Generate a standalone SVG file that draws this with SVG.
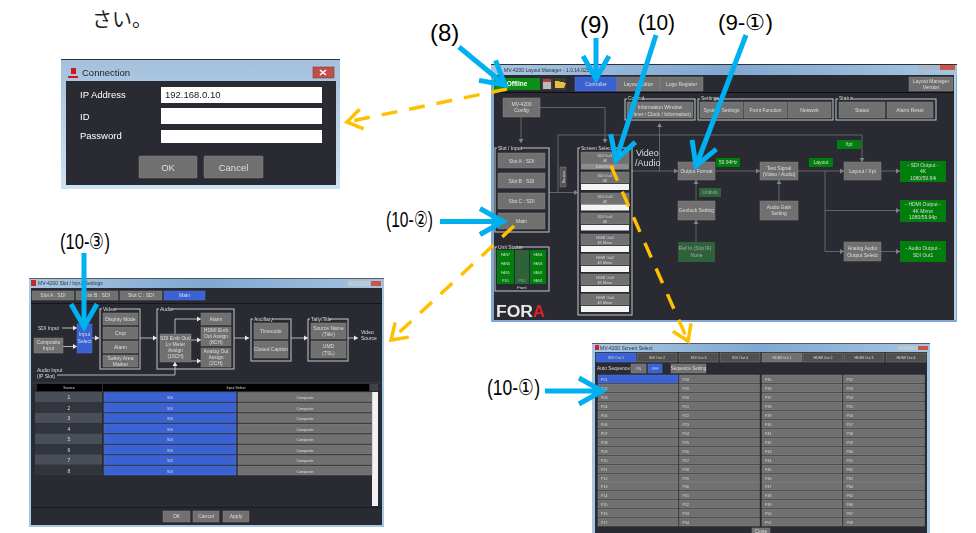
<svg xmlns="http://www.w3.org/2000/svg" width="976" height="533" viewBox="0 0 976 533">
<style>
text{font-family:"Liberation Sans",Arial,sans-serif;fill:#dedede;font-size:5px}
.m{text-anchor:middle}
.b{fill:#707070;stroke:#808080;stroke-width:.5}
.bl{fill:#3b62d2;stroke:#4c72de;stroke-width:.5}
.gr{fill:#007f0a}
.dg{fill:#2f6238}
.wh{fill:#f4f4f4}
.grp{fill:none;stroke:#c4c8cc;stroke-width:1}
.bg{fill:#292c32}
.fr{fill:#9dc0de}
.l{fill:none;stroke:#70747a;stroke-width:.8;marker-end:url(#sm)}
.wl{fill:none;stroke:#d8d8d8;stroke-width:.8;marker-end:url(#wm)}
.call{fill:#000;font-size:24px}
.cy{fill:none;stroke:#00b0f0;stroke-width:5;marker-end:url(#cyan)}
.or{fill:none;stroke:#ffc000;stroke-width:3.5;stroke-dasharray:16 12;marker-end:url(#org)}
.p{font-size:3.6px}
.d{font-size:9.500px}
</style>
<defs>
<marker id="sm" markerUnits="userSpaceOnUse" markerWidth="6" markerHeight="6" refX="4" refY="3" orient="auto"><path d="M0 .5L4 3L0 5.500Z" fill="#80848a"/></marker>
<marker id="wm" markerUnits="userSpaceOnUse" markerWidth="6" markerHeight="6" refX="4" refY="3" orient="auto"><path d="M0 .5L4 3L0 5.500Z" fill="#e8e8e8"/></marker>
<marker id="cyan" markerUnits="userSpaceOnUse" markerWidth="34" markerHeight="40" viewBox="-28 -20 34 40" refX="0" refY="0" orient="auto"><path d="M-23 -13L0 0L-23 13" fill="none" stroke="#00b0f0" stroke-width="5"/></marker>
<marker id="org" markerUnits="userSpaceOnUse" markerWidth="26" markerHeight="30" viewBox="-20 -15 26 30" refX="0" refY="0" orient="auto"><path d="M-15 -10L0 0L-15 10" fill="none" stroke="#ffc000" stroke-width="3.5"/></marker>
<linearGradient id="tb" x1="0" x2="1" y1="0" y2="0"><stop offset="0" stop-color="#a9c6e2"/><stop offset=".5" stop-color="#7fa8d2"/><stop offset="1" stop-color="#a6c4e0"/></linearGradient>
<linearGradient id="tv" x1="0" x2="0" y1="0" y2="1"><stop offset="0" stop-color="#a4c0dc"/><stop offset="1" stop-color="#cfe2f2"/></linearGradient>
<filter id="bl" filterUnits="userSpaceOnUse" x="0" y="0" width="976" height="533"><feGaussianBlur stdDeviation=".4"/></filter>
<filter id="bl2" filterUnits="userSpaceOnUse" x="0" y="0" width="976" height="533"><feGaussianBlur stdDeviation=".25"/></filter>
</defs>
<rect width="976" height="533" fill="#fff"/>
<text id="caption" x="92" y="27" style="font-family:'Noto Sans CJK JP',sans-serif;font-size:20px;fill:#222">さい。</text>

<g id="connection-dialog" filter="url(#bl2)">
<rect x="61" y="59" width="279" height="130" style="fill:url(#tv)"/>
<rect x="61" y="59" width="279" height="1" fill="#333"/>
<rect class="bg" x="66" y="81" width="270" height="104"/>
<path d="M68 76h10v2h-10zM71 68h5v6h-5z" fill="#d4141c"/>
<text x="82" y="76" class="d" style="fill:#222">Connection</text>
<rect x="313" y="67" width="21" height="11" fill="#c0504a" stroke="#7d3a36" stroke-width=".6"/>
<path d="M320 70l6 5M326 70l-6 5" stroke="#fff" stroke-width="1.6"/>
<g id="ip"><text x="80" y="98" class="d" style="fill:#fff">IP Address</text><rect x="161" y="87" width="161" height="16" fill="#fff"/><text x="165" y="98" class="d" style="fill:#222">192.168.0.10</text></g>
<g id="id"><text x="80" y="119.500" class="d" style="fill:#fff">ID</text><rect x="161" y="108" width="161" height="16" fill="#fff"/></g>
<g id="password"><text x="80" y="139" class="d" style="fill:#fff">Password</text><rect x="161" y="130" width="161" height="13" fill="#fff"/></g>
<g id="ok"><rect class="b" x="139" y="156" width="58" height="22" rx="1"/><text x="168" y="170.500" class="d m">OK</text></g>
<g id="cancel"><rect class="b" x="204" y="156" width="59" height="22" rx="1"/><text x="233.500" y="170.500" class="d m">Cancel</text></g>
</g>

<g id="main-window" filter="url(#bl)">
<rect x="491" y="64" width="466" height="258" fill="#7fa9d2"/>
<rect x="491" y="64" width="466" height="11" style="fill:url(#tb)"/>
<rect x="491" y="64" width="466" height="1" fill="#333"/>
<rect x="918" y="65" width="37" height="5" fill="#a8b8c8"/><rect x="940" y="65" width="15" height="5" fill="#c8564a"/>
<text x="504" y="71.500" style="fill:#333">MV-4200 Layout Manager - 1.0.14.0254</text>
<rect class="bg" x="494" y="75" width="460" height="245"/>
<rect x="954" y="75" width="2" height="245" fill="#b8d0e6"/>
<rect x="494" y="92" width="460" height=".8" fill="#0c0c0c"/>
<g id="conn-main">
<path class="l" d="M521 117V143"/>
<path class="l" d="M540 107.500H605V143"/>
<path class="l" d="M558 193V135H862V162"/>
<path class="l" d="M549 192.500H578"/>
<path class="l" d="M632 171H678"/>
<path class="l" d="M659.500 171V123"/>
<path class="l" d="M715 171H760"/>
<path class="l" d="M798 171H844"/>
<path class="l" d="M881 171H900"/>
<path class="l" d="M779 201V180"/>
<path class="l" d="M696 201V180"/>
<path class="l" d="M696 242V220"/>
<path class="l" d="M825 171V251.500H844"/>
<path class="l" d="M825 210.500H900"/>
<path class="l" d="M881 251.500H900"/>
</g>
<g id="offline"><rect x="494" y="78" width="46" height="12" fill="#0d8f12"/><text x="517" y="86" class="m" style="font-size:6.500px;font-weight:bold;fill:#fff">Offline</text></g>
<g id="icons"><rect x="541" y="78" width="12" height="12" fill="#3a3a3a"/><rect x="543" y="79" width="8" height="10" fill="#bbb"/><rect x="543" y="79" width="8" height="3" fill="#b04040"/><rect x="554" y="78" width="12" height="12" fill="#3a3a3a"/><path d="M555 88V81h4l1 1h4v1h2l-2 5Z" fill="#e8c040"/></g>
<g id="controller"><rect class="bl" x="575" y="77" width="42" height="14"/><text x="596" y="85.500" class="m">Controller</text></g>
<g id="layout-editor"><rect class="b" x="617" y="77" width="43" height="14"/><text x="638.500" y="85.500" class="m">Layout Editor</text></g>
<g id="logo-register"><rect class="b" x="660" y="77" width="43" height="14"/><text x="681.500" y="85.500" class="m">Logo Register</text></g>
<g id="lm-version"><rect class="b" x="909" y="77" width="44" height="14"/><text x="931" y="83" class="m">Layout Manager</text><text x="931" y="89" class="m">Version</text></g>
<g id="config"><rect class="b" x="503" y="98" width="37" height="19"/><text x="521.500" y="105.500" class="m">MV-4200</text><text x="521.500" y="112" class="m">Config</text></g>

<g id="control"><rect class="grp" x="625" y="99" width="70" height="21"/><rect class="bg" x="627" y="97" width="15" height="4"/><text x="628" y="100">Control</text><rect class="b" x="627" y="102" width="66" height="16"/><text x="660" y="109" class="m">Information Window</text><text x="660" y="115.500" class="m">(Timer / Clock / Information)</text></g>
<g id="settings"><rect class="grp" x="698" y="99" width="135" height="21"/><rect class="bg" x="700" y="97" width="15" height="4"/><text x="701" y="100">Settings</text>
<rect class="b" x="700" y="102" width="43" height="16"/><text x="721.500" y="111.500" class="m">System Settings</text>
<rect class="b" x="744" y="102" width="43" height="16"/><text x="765.500" y="111.500" class="m">Front Function</text>
<rect class="b" x="788" y="102" width="43" height="16"/><text x="809.500" y="111.500" class="m">Network</text></g>
<g id="status"><rect class="grp" x="836" y="99" width="100" height="21"/><rect class="bg" x="838" y="97" width="15" height="4"/><text x="839" y="100">Status</text>
<rect class="b" x="839" y="102" width="46" height="16"/><text x="862" y="111.500" class="m">Status</text>
<rect class="b" x="887" y="102" width="46" height="16"/><text x="910" y="111.500" class="m">Alarm Reset</text></g>

<g id="slot-input"><rect class="grp" x="495" y="148" width="54" height="84"/><rect class="bg" x="497" y="146" width="24" height="4"/><text x="498" y="150">Slot / Input</text>
<rect class="b" x="498" y="153" width="47" height="15"/><text x="521.500" y="162.500" class="m">Slot A : SDI</text>
<rect class="b" x="498" y="173" width="47" height="15"/><text x="521.500" y="182.500" class="m">Slot B : SDI</text>
<rect class="b" x="498" y="193" width="47" height="16"/><text x="521.500" y="203" class="m">Slot C : SDI</text>
<rect class="b" x="498" y="213" width="47" height="16"/><text x="521.500" y="223" class="m">Main</text></g>
<g id="source"><rect class="b" x="560" y="167" width="6" height="20" style="fill:#555"/><text transform="translate(564.500 177) rotate(-90)" class="m" style="font-size:4px">Source</text></g>

<g id="screen-select"><rect class="grp" x="578" y="148" width="54" height="167"/><rect class="bg" x="580" y="146" width="32" height="4"/><text x="581" y="150">Screen Select</text>
<g id="ss1"><rect class="b" x="581" y="152" width="48" height="12"/><text x="605" y="157" class="m p">SDI Out1</text><text x="605" y="162" class="m p">4K</text><rect x="581" y="164" width="48" height="5.500" fill="#8c8c8c"/><text x="605" y="168" class="m p">1080/59.94i</text></g>
<g id="ss2"><rect class="b" x="581" y="172" width="48" height="11"/><text x="605" y="177" class="m p">SDI Out2</text><text x="605" y="181.500" class="m p">4K</text><rect class="wh" x="581" y="184" width="48" height="6"/></g>
<g id="ss3"><rect class="b" x="581" y="193" width="48" height="11"/><text x="605" y="198" class="m p">SDI Out3</text><text x="605" y="202.500" class="m p">4K</text><rect class="wh" x="581" y="204.500" width="48" height="6"/></g>
<g id="ss4"><rect class="b" x="581" y="213" width="48" height="11"/><text x="605" y="218" class="m p">SDI Out4</text><text x="605" y="222.500" class="m p">4K</text><rect class="wh" x="581" y="225" width="48" height="5.500"/></g>
<g id="ss5"><rect class="b" x="581" y="234" width="48" height="11"/><text x="605" y="239" class="m p">HDMI Out1</text><text x="605" y="243.500" class="m p">4K Mirror</text><rect class="wh" x="581" y="246" width="48" height="6"/></g>
<g id="ss6"><rect class="b" x="581" y="254" width="48" height="11"/><text x="605" y="259" class="m p">HDMI Out2</text><text x="605" y="263.500" class="m p">4K Mirror</text><rect class="wh" x="581" y="266" width="48" height="6"/></g>
<g id="ss7"><rect class="b" x="581" y="274" width="48" height="11"/><text x="605" y="279" class="m p">HDMI Out3</text><text x="605" y="283.500" class="m p">4K Mirror</text><rect class="wh" x="581" y="286" width="48" height="6"/></g>
<g id="ss8"><rect class="b" x="581" y="294" width="48" height="11"/><text x="605" y="299" class="m p">HDMI Out4</text><text x="605" y="303.500" class="m p">4K Mirror</text><rect class="wh" x="581" y="306" width="48" height="6"/></g>
</g>
<text id="video-audio" x="636" y="156" style="font-size:9px">Video</text><text x="635" y="166" style="font-size:9px">/Audio</text>

<g id="output-format"><rect class="b" x="678" y="162" width="37" height="18"/><text x="696.500" y="172.500" class="m">Output Format</text></g>
<g id="hz"><rect class="gr" x="716" y="158" width="24" height="9"/><text x="728" y="164" class="m">59.94Hz</text></g>
<g id="unlock"><rect class="dg" x="699" y="188" width="22" height="9"/><text x="710" y="194" class="m" style="fill:#9ab">Unlock</text></g>
<g id="genlock"><rect class="b" x="678" y="201" width="37" height="19"/><text x="696.500" y="212" class="m">Genlock Setting</text></g>
<g id="ref-in"><rect class="dg" x="678" y="242" width="37" height="20"/><text x="696.500" y="250" class="m" style="fill:#aab">Ref In (Slot IF) :</text><text x="696.500" y="257" class="m" style="fill:#aab">None</text></g>
<g id="test-signal"><rect class="b" x="760" y="162" width="38" height="18"/><text x="779" y="169.500" class="m">Test Signal</text><text x="779" y="176" class="m">(Video / Audio)</text></g>
<g id="audio-gain"><rect class="b" x="760" y="201" width="38" height="19"/><text x="779" y="208.500" class="m">Audio Gain</text><text x="779" y="215" class="m">Setting</text></g>
<g id="layout"><rect class="gr" x="809" y="158" width="24" height="9"/><text x="821" y="164" class="m">Layout</text></g>
<g id="xpt"><rect class="gr" x="837" y="140" width="24" height="9"/><text x="849" y="146" class="m">Xpt</text></g>
<g id="layout-xpt"><rect class="b" x="844" y="162" width="37" height="18"/><text x="862.500" y="172.500" class="m">Layout / Xpt</text></g>
<g id="analog"><rect class="b" x="844" y="242" width="37" height="19"/><text x="862.500" y="250" class="m">Analog Audio</text><text x="862.500" y="256.500" class="m">Output Select</text></g>
<g id="sdi-output"><rect class="gr" x="900" y="161" width="46" height="21"/><text x="923" y="166.500" class="m">- SDI Output -</text><text x="923" y="173" class="m">4K</text><text x="923" y="179.500" class="m">1080/59.94i</text></g>
<g id="hdmi-output"><rect class="gr" x="900" y="200" width="46" height="22"/><text x="923" y="206" class="m">- HDMI Output -</text><text x="923" y="212.500" class="m">4K Mirror</text><text x="923" y="219" class="m">1080/59.94p</text></g>
<g id="audio-output"><rect class="gr" x="900" y="241" width="46" height="21"/><text x="923" y="250" class="m">- Audio Output -</text><text x="923" y="257" class="m">SDI Out1</text></g>

<g id="unit-status"><rect class="grp" x="495" y="247" width="54" height="44"/><rect class="bg" x="497" y="245" width="20" height="4"/><text x="498" y="249">Unit Status</text>
<rect class="gr" x="497" y="250" width="17" height="34"/><rect class="dg" x="515" y="250" width="14" height="34"/><rect class="gr" x="530" y="250" width="16" height="34"/>
<text x="505.500" y="256" class="m p">FAN7</text><text x="505.500" y="265" class="m p">FAN6</text><text x="505.500" y="273.500" class="m p">FAN5</text><text x="505.500" y="282" class="m p">PS1</text>
<text x="522" y="282" class="m p" style="fill:#9ab">PS2</text>
<text x="538" y="256" class="m p">FAN4</text><text x="538" y="265" class="m p">FAN3</text><text x="538" y="273.500" class="m p">FAN2</text><text x="538" y="282" class="m p">FAN1</text>
<text x="522" y="289" class="m" style="font-size:4px">Front</text></g>
<g id="logo"><text x="496" y="317" textLength="37" lengthAdjust="spacingAndGlyphs" style="font-size:16px;font-weight:bold;fill:#e8e8e8">FOR</text><text x="533" y="317" textLength="12" lengthAdjust="spacingAndGlyphs" style="font-size:16px;font-weight:bold;fill:#e02028">A</text></g>
</g>

<g id="input-window" filter="url(#bl)">
<rect x="29" y="278" width="355" height="249" fill="#a8c8e2"/>
<rect x="29" y="278" width="355" height="10" style="fill:url(#tb)"/>
<rect x="29" y="278" width="355" height=".8" fill="#444"/>
<rect x="31" y="280" width="5" height="6" fill="#c8262a"/>
<text x="38" y="285" style="fill:#333">MV-4200 Slot / Input Settings</text>
<rect x="348" y="281" width="22" height="5" fill="#bcc8d4"/><rect x="371" y="281" width="10" height="5" fill="#c8564a"/>
<rect class="bg" x="31" y="288" width="351" height="237"/>
<rect x="31" y="303" width="351" height=".8" fill="#111"/>
<rect x="31" y="382.500" width="351" height=".8" fill="#3e4248"/>
<rect x="31" y="507" width="351" height=".8" fill="#1b1d21"/>
<g id="tab-a"><rect class="b" x="32" y="291" width="42" height="9"/><text x="53" y="297" class="m">Slot A : SDI</text></g>
<g id="tab-b"><rect class="b" x="76" y="291" width="42" height="9"/><text x="97" y="297" class="m">Slot B : SDI</text></g>
<g id="tab-c"><rect class="b" x="120" y="291" width="42" height="9"/><text x="141" y="297" class="m">Slot C : SDI</text></g>
<g id="tab-main"><rect class="bl" x="164" y="291" width="41" height="9"/><text x="184.500" y="297" class="m">Main</text></g>
<g id="conn-input">
<path class="wl" d="M62 328H77"/><path class="wl" d="M63 346.500H77"/><path class="wl" d="M92 338H99"/><path class="wl" d="M140 338H157"/>
<path class="wl" d="M175 334V319H201"/><path class="wl" d="M191 340H201"/><path class="wl" d="M191 361H201"/>
<path class="wl" d="M234 338H249"/><path class="wl" d="M291 338H308"/><path class="wl" d="M348 338H358"/>
<path class="wl" d="M57 375H175V362"/>
</g>
<text id="sdi-input" x="38" y="330">SDI Input</text>
<g id="composite"><rect class="b" x="34" y="338" width="29" height="15"/><text x="48.500" y="344" class="m">Composite</text><text x="48.500" y="350" class="m">Input</text></g>
<g id="input-select"><rect class="bl" x="77" y="324" width="15" height="29"/><text x="84.500" y="336" class="m">Input</text><text x="84.500" y="343" class="m">Select</text></g>
<g id="video"><rect class="grp" x="100" y="309" width="40" height="60"/><rect class="bg" x="102" y="307" width="12" height="4"/><text x="103" y="311">Video</text>
<rect class="b" x="103" y="313" width="35" height="12"/><text x="120.500" y="320.500" class="m">Display Mode</text>
<rect class="b" x="103" y="327" width="35" height="12"/><text x="120.500" y="334.500" class="m">Crop</text>
<rect class="b" x="103" y="341" width="35" height="12"/><text x="120.500" y="348.500" class="m">Alarm</text>
<rect class="b" x="103" y="355" width="35" height="12"/><text x="120.500" y="360" class="m">Safety Area</text><text x="120.500" y="365.500" class="m">Marker</text></g>
<g id="audio"><rect class="grp" x="157" y="309" width="77" height="60"/><rect class="bg" x="159" y="307" width="12" height="4"/><text x="160" y="311">Audio</text>
<rect class="b" x="160" y="334" width="31" height="28"/><text x="175.500" y="340" class="m">SDI Emb Out/</text><text x="175.500" y="346" class="m">Lv Meter</text><text x="175.500" y="352" class="m">Assign</text><text x="175.500" y="358" class="m">(16CH)</text>
<rect class="b" x="201" y="313" width="30" height="12"/><text x="216" y="320.500" class="m">Alarm</text>
<rect class="b" x="201" y="327" width="30" height="19"/><text x="216" y="331.500" class="m">HDMI Emb</text><text x="216" y="337.500" class="m">Out Assign</text><text x="216" y="343.500" class="m">(8CH)</text>
<rect class="b" x="201" y="348" width="30" height="19"/><text x="216" y="353" class="m">Analog Out</text><text x="216" y="359" class="m">Assign</text><text x="216" y="365" class="m">(2CH)</text></g>
<g id="ancillary"><rect class="grp" x="251" y="319" width="40" height="42"/><rect class="bg" x="253" y="317" width="19" height="4"/><text x="254" y="321">Ancillary</text>
<rect class="b" x="254" y="323" width="34" height="16"/><text x="271" y="332.500" class="m">Timecode</text>
<rect class="b" x="254" y="341" width="34" height="17"/><text x="271" y="351" class="m">Closed Caption</text></g>
<g id="tally"><rect class="grp" x="308" y="319" width="40" height="42"/><rect class="bg" x="310" y="317" width="20" height="4"/><text x="311" y="321">Tally/Title</text>
<rect class="b" x="311" y="323" width="35" height="16"/><text x="328.500" y="330" class="m">Source Name</text><text x="328.500" y="336" class="m">(Title)</text>
<rect class="b" x="311" y="341" width="35" height="17"/><text x="328.500" y="348" class="m">UMD</text><text x="328.500" y="354.500" class="m">(TSL)</text></g>
<text id="video-source" x="361" y="334">Video</text><text x="361" y="340">Source</text>
<text id="audio-input" x="37" y="372">Audio Input</text><text x="37" y="378">(IP Slot)</text>

<g id="table">
<rect x="37" y="384" width="65" height="7" fill="#000"/><text x="69" y="389" class="m p">Source</text>
<rect x="103" y="384" width="266" height="7" fill="#000"/><text x="236" y="389" class="m p">Input Select</text>
<rect x="370" y="384" width="8" height="7" fill="#3e4248"/>
<rect x="372" y="392" width="6" height="114" fill="#f2f2f2"/>
<g id="r1"><rect x="35" y="392" width="67" height="10.400" fill="#4a5058"/><text x="69" y="399" class="m">1</text><rect class="bl" x="104" y="392.500" width="132" height="9"/><text x="170" y="399" class="m p">SDI</text><rect class="b" x="238" y="392.500" width="134" height="9"/><text x="305" y="399" class="m p">Composite</text></g>
<g id="r2"><rect x="35" y="402.400" width="67" height="10.400" fill="#30343a"/><text x="69" y="409.500" class="m">2</text><rect class="bl" x="104" y="403" width="132" height="9"/><text x="170" y="409.500" class="m p">SDI</text><rect class="b" x="238" y="403" width="134" height="9"/><text x="305" y="409.500" class="m p">Composite</text></g>
<g id="r3"><rect x="35" y="412.800" width="67" height="10.400" fill="#4a5058"/><text x="69" y="420" class="m">3</text><rect class="bl" x="104" y="413.500" width="132" height="9"/><text x="170" y="420" class="m p">SDI</text><rect class="b" x="238" y="413.500" width="134" height="9"/><text x="305" y="420" class="m p">Composite</text></g>
<g id="r4"><rect x="35" y="423.200" width="67" height="10.400" fill="#30343a"/><text x="69" y="430.500" class="m">4</text><rect class="bl" x="104" y="424" width="132" height="9"/><text x="170" y="430.500" class="m p">SDI</text><rect class="b" x="238" y="424" width="134" height="9"/><text x="305" y="430.500" class="m p">Composite</text></g>
<g id="r5"><rect x="35" y="433.600" width="67" height="10.400" fill="#4a5058"/><text x="69" y="441" class="m">5</text><rect class="bl" x="104" y="434.500" width="132" height="9"/><text x="170" y="441" class="m p">SDI</text><rect class="b" x="238" y="434.500" width="134" height="9"/><text x="305" y="441" class="m p">Composite</text></g>
<g id="r6"><rect x="35" y="444" width="67" height="10.400" fill="#30343a"/><text x="69" y="451.500" class="m">6</text><rect class="bl" x="104" y="445" width="132" height="9"/><text x="170" y="451.500" class="m p">SDI</text><rect class="b" x="238" y="445" width="134" height="9"/><text x="305" y="451.500" class="m p">Composite</text></g>
<g id="r7"><rect x="35" y="454.400" width="67" height="10.400" fill="#4a5058"/><text x="69" y="462" class="m">7</text><rect class="bl" x="104" y="455.500" width="132" height="9"/><text x="170" y="462" class="m p">SDI</text><rect class="b" x="238" y="455.500" width="134" height="9"/><text x="305" y="462" class="m p">Composite</text></g>
<g id="r8"><rect x="35" y="464.800" width="67" height="10.400" fill="#30343a"/><text x="69" y="472.500" class="m">8</text><rect class="bl" x="104" y="466" width="132" height="9"/><text x="170" y="472.500" class="m p">SDI</text><rect class="b" x="238" y="466" width="134" height="9"/><text x="305" y="472.500" class="m p">Composite</text></g>
</g>
<g id="i-ok"><rect class="b" x="163" y="511" width="27" height="11"/><text x="176.500" y="518" class="m">OK</text></g>
<g id="i-cancel"><rect class="b" x="193" y="511" width="26" height="11"/><text x="206" y="518" class="m">Cancel</text></g>
<g id="i-apply"><rect class="b" x="223" y="511" width="26" height="11"/><text x="236" y="518" class="m">Apply</text></g>
</g>

<g id="screen-window" filter="url(#bl)">
<rect x="592" y="343" width="338" height="190" fill="#a8c8e2"/>
<rect x="592" y="343" width="338" height="9" style="fill:url(#tb)"/>
<rect x="592" y="343" width="338" height=".8" fill="#444"/>
<rect x="595" y="345" width="4" height="5" fill="#c8262a"/>
<text x="600" y="349.500" style="fill:#333">MV-4200 Screen Select</text>
<rect x="898" y="346" width="20" height="4" fill="#bcc8d4"/><rect x="918" y="346" width="10" height="4" fill="#c8564a"/>
<rect class="bg" x="595" y="352" width="332" height="181"/>
<g id="tabs">
<rect class="bl" x="596" y="353" width="40" height="9"/><text x="616" y="359" class="m p">SDI Out 1</text>
<rect class="b" x="637" y="353" width="40" height="9" style="fill:#505050"/><text x="657" y="359" class="m p">SDI Out 2</text>
<rect class="b" x="679" y="353" width="39" height="9" style="fill:#505050"/><text x="698.500" y="359" class="m p">SDI Out 3</text>
<rect class="b" x="720" y="353" width="40" height="9" style="fill:#505050"/><text x="740" y="359" class="m p">SDI Out 4</text>
<rect class="b" x="762" y="353" width="40" height="9"/><text x="782" y="359" class="m p">HDMI Out 1</text>
<rect class="b" x="803" y="353" width="40" height="9" style="fill:#505050"/><text x="823" y="359" class="m p">HDMI Out 2</text>
<rect class="b" x="844" y="353" width="40" height="9" style="fill:#505050"/><text x="864" y="359" class="m p">HDMI Out 3</text>
<rect class="b" x="886" y="353" width="40" height="9" style="fill:#505050"/><text x="906" y="359" class="m p">HDMI Out 4</text>
</g>
<text id="auto-seq" x="597" y="370" style="font-size:4.800px">Auto Sequence:</text>
<g id="on"><rect class="b" x="631" y="364" width="15" height="9"/><text x="638.500" y="370" class="m p">ON</text></g>
<g id="off"><rect class="bl" x="648" y="364" width="14" height="9"/><text x="655" y="370" class="m p">OFF</text></g>
<g id="seq"><rect class="b" x="671" y="364" width="35" height="9"/><text x="688.500" y="370" class="m" style="font-size:4.500px">Sequence Setting</text></g>
<g id="col1" transform="translate(598 0)">
<rect class="bl" y="375" width="80" height="8"/><text class="p" x="3" y="380.500">P01</text>
<rect class="b" y="384" width="80" height="8"/><text class="p" x="3" y="389.500">P02</text>
<rect class="b" y="393" width="80" height="8"/><text class="p" x="3" y="398.500">P03</text>
<rect class="b" y="402" width="80" height="8"/><text class="p" x="3" y="407.500">P04</text>
<rect class="b" y="411" width="80" height="8"/><text class="p" x="3" y="416.500">P05</text>
<rect class="b" y="420" width="80" height="8"/><text class="p" x="3" y="425.500">P06</text>
<rect class="b" y="429" width="80" height="8"/><text class="p" x="3" y="434.500">P07</text>
<rect class="b" y="438" width="80" height="8"/><text class="p" x="3" y="443.500">P08</text>
<rect class="b" y="447" width="80" height="8"/><text class="p" x="3" y="452.500">P09</text>
<rect class="b" y="456" width="80" height="8"/><text class="p" x="3" y="461.500">P10</text>
<rect class="b" y="465" width="80" height="8"/><text class="p" x="3" y="470.500">P11</text>
<rect class="b" y="474" width="80" height="8"/><text class="p" x="3" y="479.500">P12</text>
<rect class="b" y="482" width="80" height="8"/><text class="p" x="3" y="487.500">P13</text>
<rect class="b" y="491" width="80" height="8"/><text class="p" x="3" y="496.500">P14</text>
<rect class="b" y="500" width="80" height="8"/><text class="p" x="3" y="505.500">P15</text>
<rect class="b" y="509" width="80" height="8"/><text class="p" x="3" y="514.500">P16</text>
<rect class="b" y="518" width="80" height="8"/><text class="p" x="3" y="523.500">P17</text>
</g>
<g id="col2" transform="translate(679.500 0)">
<rect class="b" y="375" width="80" height="8"/><text class="p" x="3" y="380.500">P18</text>
<rect class="b" y="384" width="80" height="8"/><text class="p" x="3" y="389.500">P19</text>
<rect class="b" y="393" width="80" height="8"/><text class="p" x="3" y="398.500">P20</text>
<rect class="b" y="402" width="80" height="8"/><text class="p" x="3" y="407.500">P21</text>
<rect class="b" y="411" width="80" height="8"/><text class="p" x="3" y="416.500">P22</text>
<rect class="b" y="420" width="80" height="8"/><text class="p" x="3" y="425.500">P23</text>
<rect class="b" y="429" width="80" height="8"/><text class="p" x="3" y="434.500">P24</text>
<rect class="b" y="438" width="80" height="8"/><text class="p" x="3" y="443.500">P25</text>
<rect class="b" y="447" width="80" height="8"/><text class="p" x="3" y="452.500">P26</text>
<rect class="b" y="456" width="80" height="8"/><text class="p" x="3" y="461.500">P27</text>
<rect class="b" y="465" width="80" height="8"/><text class="p" x="3" y="470.500">P28</text>
<rect class="b" y="474" width="80" height="8"/><text class="p" x="3" y="479.500">P29</text>
<rect class="b" y="482" width="80" height="8"/><text class="p" x="3" y="487.500">P30</text>
<rect class="b" y="491" width="80" height="8"/><text class="p" x="3" y="496.500">P31</text>
<rect class="b" y="500" width="80" height="8"/><text class="p" x="3" y="505.500">P32</text>
<rect class="b" y="509" width="80" height="8"/><text class="p" x="3" y="514.500">P33</text>
<rect class="b" y="518" width="80" height="8"/><text class="p" x="3" y="523.500">P34</text>
</g>
<g id="col3" transform="translate(762 0)">
<rect class="b" y="375" width="80" height="8"/><text class="p" x="3" y="380.500">P35</text>
<rect class="b" y="384" width="80" height="8"/><text class="p" x="3" y="389.500">P36</text>
<rect class="b" y="393" width="80" height="8"/><text class="p" x="3" y="398.500">P37</text>
<rect class="b" y="402" width="80" height="8"/><text class="p" x="3" y="407.500">P38</text>
<rect class="b" y="411" width="80" height="8"/><text class="p" x="3" y="416.500">P39</text>
<rect class="b" y="420" width="80" height="8"/><text class="p" x="3" y="425.500">P40</text>
<rect class="b" y="429" width="80" height="8"/><text class="p" x="3" y="434.500">P41</text>
<rect class="b" y="438" width="80" height="8"/><text class="p" x="3" y="443.500">P42</text>
<rect class="b" y="447" width="80" height="8"/><text class="p" x="3" y="452.500">P43</text>
<rect class="b" y="456" width="80" height="8"/><text class="p" x="3" y="461.500">P44</text>
<rect class="b" y="465" width="80" height="8"/><text class="p" x="3" y="470.500">P45</text>
<rect class="b" y="474" width="80" height="8"/><text class="p" x="3" y="479.500">P46</text>
<rect class="b" y="482" width="80" height="8"/><text class="p" x="3" y="487.500">P47</text>
<rect class="b" y="491" width="80" height="8"/><text class="p" x="3" y="496.500">P48</text>
<rect class="b" y="500" width="80" height="8"/><text class="p" x="3" y="505.500">P49</text>
<rect class="b" y="509" width="80" height="8"/><text class="p" x="3" y="514.500">P50</text>
<rect class="b" y="518" width="80" height="8"/><text class="p" x="3" y="523.500">P51</text>
</g>
<g id="col4" transform="translate(843.500 0)">
<rect class="b" y="375" width="81" height="8"/><text class="p" x="3" y="380.500">P52</text>
<rect class="b" y="384" width="81" height="8"/><text class="p" x="3" y="389.500">P53</text>
<rect class="b" y="393" width="81" height="8"/><text class="p" x="3" y="398.500">P54</text>
<rect class="b" y="402" width="81" height="8"/><text class="p" x="3" y="407.500">P55</text>
<rect class="b" y="411" width="81" height="8"/><text class="p" x="3" y="416.500">P56</text>
<rect class="b" y="420" width="81" height="8"/><text class="p" x="3" y="425.500">P57</text>
<rect class="b" y="429" width="81" height="8"/><text class="p" x="3" y="434.500">P58</text>
<rect class="b" y="438" width="81" height="8"/><text class="p" x="3" y="443.500">P59</text>
<rect class="b" y="447" width="81" height="8"/><text class="p" x="3" y="452.500">P60</text>
<rect class="b" y="456" width="81" height="8"/><text class="p" x="3" y="461.500">P61</text>
<rect class="b" y="465" width="81" height="8"/><text class="p" x="3" y="470.500">P62</text>
<rect class="b" y="474" width="81" height="8"/><text class="p" x="3" y="479.500">P63</text>
<rect class="b" y="482" width="81" height="8"/><text class="p" x="3" y="487.500">P64</text>
<rect class="b" y="491" width="81" height="8"/><text class="p" x="3" y="496.500">P65</text>
<rect class="b" y="500" width="81" height="8"/><text class="p" x="3" y="505.500">P66</text>
<rect class="b" y="509" width="81" height="8"/><text class="p" x="3" y="514.500">P67</text>
<rect class="b" y="518" width="81" height="8"/><text class="p" x="3" y="523.500">P68</text>
</g>
<g id="close"><rect class="b" x="752" y="528" width="18" height="6"/><text x="761" y="533" class="m">Close</text></g>
</g>

<g id="connectors">
<path class="or" d="M507 89L347 122"/>
<path class="or" d="M514 226L391 340"/>
<path class="or" d="M611 166L688 341"/>
<path class="cy" d="M459 47L505 85"/>
<path class="cy" d="M596 38V79"/>
<path class="cy" d="M656 35L616 160"/>
<path class="cy" d="M746 35L696 166"/>
<path class="cy" d="M440 221.500H503"/>
<path class="cy" d="M84 253V327"/>
<path class="cy" d="M545 391H602"/>
</g>
<g id="callouts">
<text class="call" x="430" y="41">(8)</text>
<text class="call" x="580" y="33">(9)</text>
<text class="call" x="638" y="30" style="font-size:22px" textLength="37" lengthAdjust="spacingAndGlyphs">(10)</text>
<text class="call" x="718" y="30" style="font-size:22px" textLength="55" lengthAdjust="spacingAndGlyphs">(9-①)</text>
<text class="call" x="386" y="227" style="font-size:22px" textLength="47" lengthAdjust="spacingAndGlyphs">(10-②)</text>
<text class="call" x="60" y="249" style="font-size:22px" textLength="50" lengthAdjust="spacingAndGlyphs">(10-③)</text>
<text class="call" x="487" y="395" style="font-size:22px" textLength="53" lengthAdjust="spacingAndGlyphs">(10-①)</text>
</g>
</svg>
